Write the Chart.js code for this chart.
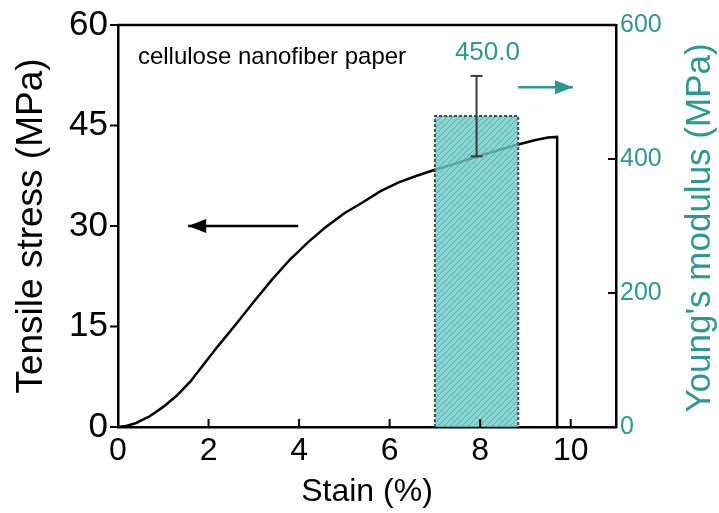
<!DOCTYPE html>
<html>
<head>
<meta charset="utf-8">
<script src="https://cdn.jsdelivr.net/npm/chart.js@4.4.1/dist/chart.umd.min.js"></script>
<style>
  html, body { margin: 0; padding: 0; background: #fff; }
  #wrap { width: 719px; height: 513px; }
</style>
</head>
<body>
<div id="wrap"><canvas id="chart" width="719" height="513"></canvas></div>
<script>
'use strict'

// stress-strain curve
const strain = [0, 0.2, 0.4, 0.7, 1.0, 1.3, 1.6, 1.9, 2.2, 2.6, 3.0, 3.4, 3.8, 4.2, 4.6, 5.0, 5.4, 5.8, 6.2, 6.6, 7.0, 7.4, 7.9, 8.4, 8.8, 9.2, 9.5, 9.7, 9.7]
const stress = [0, 0.2, 0.6, 1.6, 3.0, 4.7, 6.8, 9.4, 12.0, 15.3, 18.7, 22.0, 25.0, 27.6, 29.9, 31.9, 33.5, 35.2, 36.5, 37.5, 38.4, 39.2, 40.3, 41.3, 42.1, 42.8, 43.2, 43.3, 0]

// Young's modulus bar (right axis)
const barSpan = [7.0, 8.84]
const modulusMean = 464
const modulusErr = 60
const modulusLabel = '450.0'

const xTicks = [0, 2, 4, 6, 8, 10]
const stressTicks = [0, 15, 30, 45, 60]
const modulusTicks = [0, 200, 400, 600]

const TEAL = '#2b9891'
const FONT = '"Liberation Sans", Arial, sans-serif'

function hatch () {
  const c = document.createElement('canvas')
  c.width = 6
  c.height = 6
  const g = c.getContext('2d')
  g.fillStyle = 'rgba(108,204,200,0.82)'
  g.fillRect(0, 0, 6, 6)
  g.strokeStyle = 'rgba(95,140,140,0.6)'
  g.lineWidth = 1
  g.beginPath()
  g.moveTo(0, 6); g.lineTo(6, 0)
  g.moveTo(-3, 3); g.lineTo(3, -3)
  g.moveTo(3, 9); g.lineTo(9, 3)
  g.stroke()
  return g.createPattern(c, 'repeat')
}

const barMid = (barSpan[0] + barSpan[1]) / 2

// ticks, frame, arrows and notes
const extras = {
  id: 'extras',
  afterDraw (chart) {
    const { ctx, chartArea: a, scales } = chart
    const x = scales.x
    const y = scales.y
    const y2 = scales.y2
    ctx.save()
    ctx.strokeStyle = '#000'
    ctx.lineWidth = 2.5
    ctx.beginPath()
    ctx.moveTo(a.left, a.top); ctx.lineTo(a.right, a.top)
    ctx.stroke()
    ctx.lineWidth = 2
    ctx.beginPath()
    xTicks.forEach(v => { const p = x.getPixelForValue(v); ctx.moveTo(p, a.bottom); ctx.lineTo(p, a.bottom - 8) })
    stressTicks.forEach(v => { const p = y.getPixelForValue(v); ctx.moveTo(a.left, p); ctx.lineTo(a.left - 8, p) })
    modulusTicks.forEach(v => { const p = y2.getPixelForValue(v); ctx.moveTo(a.right, p); ctx.lineTo(a.right - 8, p) })
    ctx.stroke()

    const arrow = (x0, x1, py, color, dir) => {
      ctx.strokeStyle = color
      ctx.fillStyle = color
      ctx.lineWidth = 2.5
      ctx.beginPath()
      ctx.moveTo(x0, py); ctx.lineTo(x1, py)
      ctx.stroke()
      const tip = dir < 0 ? x0 : x1
      ctx.beginPath()
      ctx.moveTo(tip, py)
      ctx.lineTo(tip - dir * 18, py - 7)
      ctx.lineTo(tip - dir * 18, py + 7)
      ctx.closePath()
      ctx.fill()
    }
    arrow(x.getPixelForValue(1.55), x.getPixelForValue(3.98), y.getPixelForValue(30), '#000', -1)
    arrow(x.getPixelForValue(8.84), x.getPixelForValue(10.05), y2.getPixelForValue(507), TEAL, 1)

    ctx.fillStyle = '#000'
    ctx.font = '24px ' + FONT
    ctx.textAlign = 'left'
    ctx.textBaseline = 'middle'
    ctx.fillText('cellulose nanofiber paper', x.getPixelForValue(0.44), y.getPixelForValue(55.2))
    ctx.fillStyle = TEAL
    ctx.font = '26px ' + FONT
    ctx.textAlign = 'center'
    ctx.fillText(modulusLabel, x.getPixelForValue(8.16), y2.getPixelForValue(558))

    // right axis title, read bottom to top
    ctx.translate(700, 228)
    ctx.rotate(-Math.PI / 2)
    ctx.font = '35px ' + FONT
    ctx.fillText("Young's modulus (MPa)", 0, 0)
    ctx.restore()
  }
}

const fixedTicks = list => scale => { scale.ticks = list.map(v => ({ value: v })) }

new Chart(document.getElementById('chart'), {
  type: 'scatter',
  data: {
    datasets: [
      {
        // error bar
        yAxisID: 'y2',
        data: [{ x: barMid, y: modulusMean - modulusErr }, { x: barMid, y: modulusMean + modulusErr }],
        showLine: true,
        borderColor: '#3a3a3a',
        borderWidth: 2,
        pointStyle: 'line',
        pointRadius: 6,
        pointBorderWidth: 2,
        pointBorderColor: '#3a3a3a',
        order: 0
      },
      {
        // modulus bar
        yAxisID: 'y2',
        data: [{ x: barSpan[0], y: 0 }, { x: barSpan[0], y: modulusMean }, { x: barSpan[1], y: modulusMean }, { x: barSpan[1], y: 0 }],
        showLine: true,
        fill: 'origin',
        backgroundColor: hatch(),
        borderColor: '#4a4a4a',
        borderWidth: 2,
        borderDash: [3, 2],
        pointRadius: 0,
        order: 1
      },
      {
        yAxisID: 'y',
        data: strain.map((s, i) => ({ x: s, y: stress[i] })),
        showLine: true,
        borderColor: '#000',
        borderWidth: 2.5,
        pointRadius: 0,
        tension: 0,
        order: 2
      }
    ]
  },
  options: {
    responsive: false,
    animation: false,
    layout: { padding: { top: 25, left: 0, right: 0, bottom: 0 } },
    plugins: {
      legend: { display: false },
      tooltip: { enabled: false }
    },
    scales: {
      x: {
        type: 'linear',
        min: 0,
        max: 11,
        afterBuildTicks: fixedTicks(xTicks),
        afterFit: s => { s.height = 86 },
        grid: { display: false, drawTicks: true, tickLength: 5 },
        border: { display: true, color: '#000', width: 2.5 },
        ticks: { color: '#000', padding: 0, font: { family: FONT, size: 32 }, maxRotation: 0 },
        title: { display: true, text: 'Stain (%)', color: '#000', font: { family: FONT, size: 32 }, padding: { top: 0, bottom: 2 } }
      },
      y: {
        type: 'linear',
        position: 'left',
        min: 0,
        max: 60,
        afterBuildTicks: fixedTicks(stressTicks),
        afterFit: s => { s.width = 118 },
        grid: { display: false, drawTicks: true, tickLength: 10 },
        border: { display: true, color: '#000', width: 2.5 },
        ticks: { color: '#000', padding: 0, font: { family: FONT, size: 35 } },
        title: { display: true, text: 'Tensile stress (MPa)', color: '#000', font: { family: FONT, size: 37 }, padding: { top: 10, bottom: 0 } }
      },
      y2: {
        type: 'linear',
        position: 'right',
        min: 0,
        max: 600,
        afterBuildTicks: fixedTicks(modulusTicks),
        afterFit: s => { s.width = 103 },
        grid: { display: false, drawTicks: true, tickLength: 4 },
        border: { display: true, color: '#000', width: 2.5 },
        ticks: { color: TEAL, padding: 0, font: { family: FONT, size: 25 } },
        title: { display: false }
      }
    }
  },
  plugins: [extras]
})
</script>
</body>
</html>
